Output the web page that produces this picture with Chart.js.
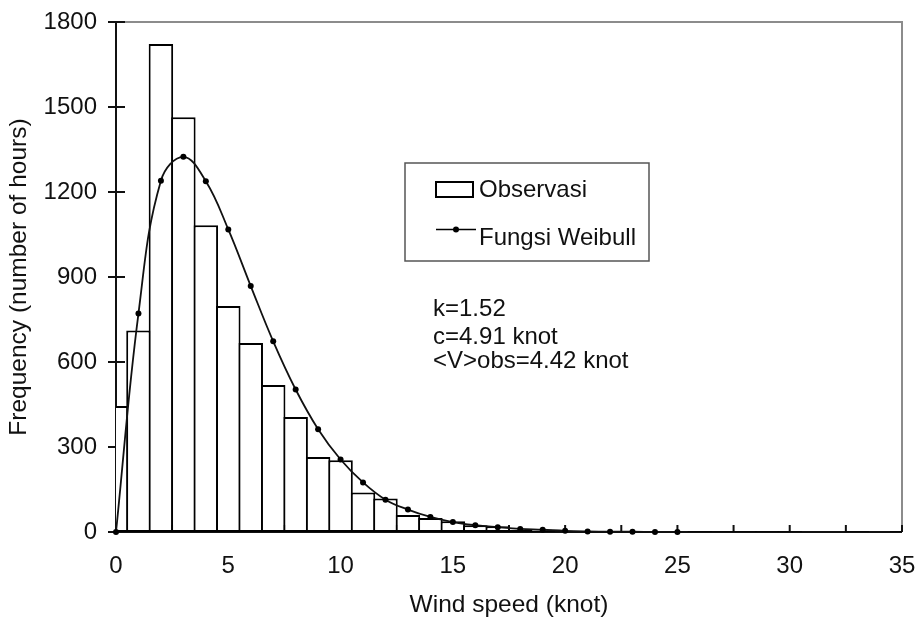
<!DOCTYPE html>
<html>
<head>
<meta charset="utf-8">
<script src="https://cdn.jsdelivr.net/npm/chart.js@4.4.0/dist/chart.umd.min.js"></script>
<style>
  html, body { margin: 0; padding: 0; background: #fff; }
  #wrap { width: 917px; height: 624px; }
</style>
</head>
<body>
<div id="wrap"><canvas id="windchart" width="917" height="624"></canvas></div>
<script>
// wind speed bins (knot) and observed hours
const speedBins = [0, 1, 2, 3, 4, 5, 6, 7, 8, 9, 10, 11, 12, 13, 14, 15, 16, 17,
    18, 19, 20, 21, 22, 23, 24, 25, 26, 27, 28, 29, 30, 31, 32, 33, 34, 35];
const observed = [445, 711, 1722, 1464, 1083, 798, 667, 519, 406, 265, 253, 139, 118, 60, 49, 38, 24, 20,
    7, 5, 3, 3, 3, 2, 2, 1, 3, 3, 3, 3, 3, 0, 0, 3, 0, 3];

// fitted Weibull curve, read at each knot
const weibullSpeed = [0, 1, 2, 3, 4, 5, 6, 7, 8, 9, 10, 11, 12, 13, 14, 15, 16, 17, 18, 19, 20, 21, 22, 23, 24, 25];
const weibullFreq = [0, 771, 1240, 1324, 1238, 1068, 868, 673, 503, 363, 256, 175, 114, 79, 53, 35, 24, 17, 11, 8, 4, 2, 1, 1, 0, 0];

const yTicks = [0, 300, 600, 900, 1200, 1500, 1800];
const xTickStep = 2.5;

const legendLabels = ["Observasi", "Fungsi Weibull"];
const fitNotes = ["k=1.52", "c=4.91 knot", "<V>obs=4.42 knot"];

const FONT = "Liberation Sans, Arial, sans-serif";
const windChart = document.getElementById("windchart");

// frame, axes and tick marks like the spreadsheet original
const framePlugin = {
    id: "frame",
    beforeDatasetsDraw(chart) {
        const { ctx, chartArea: a, scales } = chart;
        ctx.save();
        ctx.lineWidth = 2;
        ctx.strokeStyle = "#8c8c8c";
        ctx.beginPath();
        ctx.moveTo(a.left, a.top); ctx.lineTo(a.right, a.top); ctx.lineTo(a.right, a.bottom);
        ctx.stroke();

        ctx.strokeStyle = "#111";
        ctx.beginPath();
        yTicks.forEach(v => {
            const y = scales.y.getPixelForValue(v);
            ctx.moveTo(a.left - 8, y); ctx.lineTo(a.left + 9, y);
        });
        for (let v = xTickStep; v <= 35; v += xTickStep) {
            const x = scales.x.getPixelForValue(v);
            ctx.moveTo(x, a.bottom); ctx.lineTo(x, a.bottom - 7);
        }
        ctx.stroke();

        ctx.beginPath();
        ctx.moveTo(a.left, a.top); ctx.lineTo(a.left, a.bottom); ctx.lineTo(a.right, a.bottom);
        ctx.stroke();
        ctx.restore();
    }
};

// boxed legend and fit parameters inside the plot
const notePlugin = {
    id: "notes",
    afterDraw(chart) {
        const ctx = chart.ctx;
        ctx.save();
        ctx.lineWidth = 1.5;
        ctx.strokeStyle = "#555";
        ctx.strokeRect(405, 163, 244, 98);

        ctx.fillStyle = "#fff";
        ctx.strokeStyle = "#000";
        ctx.lineWidth = 2;
        ctx.fillRect(436, 182, 37, 15);
        ctx.strokeRect(436, 182, 37, 15);

        ctx.lineWidth = 1.5;
        ctx.beginPath();
        ctx.moveTo(436, 229.5); ctx.lineTo(476, 229.5);
        ctx.stroke();
        ctx.fillStyle = "#000";
        ctx.beginPath();
        ctx.arc(456, 229.5, 3, 0, Math.PI * 2);
        ctx.fill();

        ctx.font = "24px " + FONT;
        ctx.fillStyle = "#111";
        ctx.textBaseline = "alphabetic";
        ctx.fillText(legendLabels[0], 479, 197);
        ctx.fillText(legendLabels[1], 479, 245);

        const rows = [316, 344, 368];
        fitNotes.forEach((t, i) => ctx.fillText(t, 433, rows[i]));
        ctx.restore();
    }
};

const windChartInstance = new Chart(windChart, {
    type: "bar",
    data: {
        datasets: [
            {
                type: "line",
                label: legendLabels[1],
                data: weibullSpeed.map((x, i) => ({ x: x, y: weibullFreq[i] })),
                borderColor: "#111",
                borderWidth: 1.8,
                pointRadius: 3,
                pointBackgroundColor: "#000",
                pointBorderWidth: 0,
                tension: 0.4,
                clip: false,
                order: 0
            },
            {
                type: "bar",
                label: legendLabels[0],
                data: speedBins.map((x, i) => ({ x: x, y: observed[i] })),
                backgroundColor: "#fff",
                borderColor: "#000",
                borderWidth: 2,
                borderSkipped: false,
                barPercentage: 1.09,
                categoryPercentage: 1,
                clip: 0,
                order: 1
            }
        ]
    },
    options: {
        responsive: false,
        animation: false,
        devicePixelRatio: 1,
        layout: { padding: { left: 0, right: 15, top: 22, bottom: 0 } },
        plugins: {
            legend: { display: false },
            tooltip: { enabled: false }
        },
        scales: {
            x: {
                type: "linear",
                min: 0,
                max: 35,
                offset: false,
                grid: { display: false, drawTicks: false, offset: false },
                border: { display: false },
                ticks: {
                    stepSize: xTickStep,
                    autoSkip: false,
                    maxRotation: 0,
                    padding: 20,
                    color: "#111",
                    font: { family: FONT, size: 24 },
                    callback: v => (v % 5 === 0 ? String(v) : "")
                },
                title: {
                    display: true,
                    text: "Wind speed (knot)",
                    color: "#111",
                    font: { family: FONT, size: 24.5 },
                    padding: { top: 0, bottom: 4 }
                },
                afterFit: s => {
                    s.height = 92;
                    s.paddingLeft = 0;
                    s.paddingRight = 0;
                }
            },
            y: {
                min: 0,
                max: 1800,
                grid: { display: false, drawTicks: false },
                border: { display: false },
                ticks: {
                    stepSize: 300,
                    padding: 19,
                    color: "#111",
                    font: { family: FONT, size: 24 },
                    callback: v => String(v)
                },
                title: {
                    display: true,
                    text: "Frequency (number of hours)",
                    color: "#111",
                    font: { family: FONT, size: 24.5 },
                    padding: { top: 5, bottom: 0 }
                },
                afterFit: s => {
                    s.width = 116;
                    s.paddingTop = 0;
                    s.paddingBottom = 0;
                }
            }
        }
    },
    plugins: [framePlugin, notePlugin]
});
</script>
</body>
</html>
